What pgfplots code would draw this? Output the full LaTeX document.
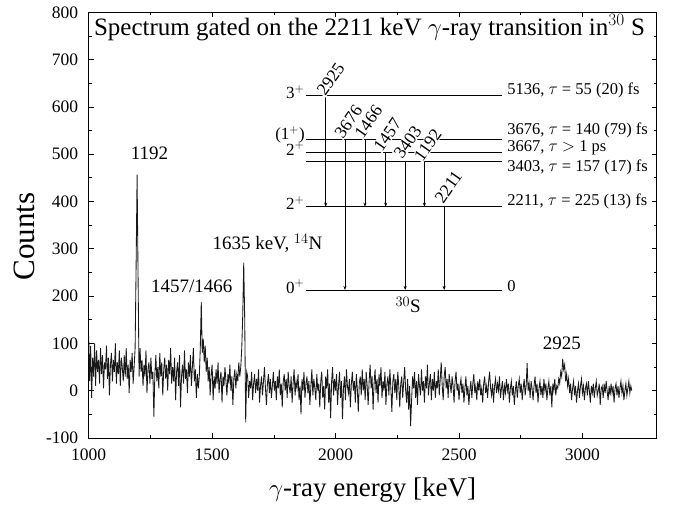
\documentclass[border=0pt]{standalone}
\usepackage{fontspec}
\setmainfont{Liberation Serif}
\usepackage{pgfplots}
\pgfplotsset{compat=1.18}
\usetikzlibrary{arrows.meta}

\begin{document}
\begin{tikzpicture}
\useasboundingbox (-88.7pt,-67pt) rectangle (589.3pt,438pt);
\begin{axis}[
  scale only axis, width=567.8pt, height=425.7pt,
  xmin=1000, xmax=3300, ymin=-100, ymax=800,
  xtick={1000,1500,2000,2500,3000}, minor x tick num=1,
  ytick={-100,0,100,200,300,400,500,600,700,800}, minor y tick num=1,
  tick align=inside, major tick length=5pt, minor tick length=3pt,
  axis line style={line width=0.9pt},
  every tick/.style={line width=0.7pt, black},
  /pgf/number format/assume math mode=true,
  /pgf/number format/1000 sep={},
  tick label style={font=\fontsize{17.5}{20}\selectfont},
  yticklabel style={xshift=-7pt},
  xticklabel style={yshift=-7pt},
  xlabel={$\gamma$-ray energy [keV]},
  ylabel={Counts},
  x label style={font=\fontsize{27}{30}\selectfont, at={(axis description cs:0.5,-0.122)},anchor=center},
  y label style={font=\fontsize{31}{34}\selectfont, at={(axis description cs:-0.114,0.473)},anchor=center},
  clip mode=individual,
]
\addplot[black!90, line width=0.85pt] coordinates {
(1000,115)(1004,20)(1008,95)(1012,-15)(1016,70)(1020,30)(1024,100)(1028,10)(1032,85)(1036,40)(1040,65)(1044,15)(1048,90)(1052,35)(1056,75)(1060,5)
(1064,60)(1068,45)(1072,95)(1076,25)(1080,70)(1084,-10)(1088,55)(1092,80)(1096,20)(1100,65)(1104,40)(1108,100)(1112,15)(1116,60)(1120,35)(1124,85)
(1128,10)(1132,70)(1136,50)(1140,20)(1144,75)(1148,30)(1152,90)(1156,25)(1160,55)(1164,-5)(1168,65)(1172,40)(1176,80)(1180,15)(1184,50)
(1188,90)(1192,260)(1196,457)(1200,240)(1204,30)(1208,90)(1212,40)
(1216,65)(1220,10)(1224,55)(1228,30)(1232,85)(1236,-5)(1240,45)(1244,60)(1248,15)(1252,70)(1256,25)(1260,40)(1264,-55)(1268,35)(1272,75)(1276,20)
(1280,50)(1284,5)(1288,80)(1292,30)(1296,60)(1300,-10)(1304,45)(1308,70)(1312,25)(1316,55)(1320,0)(1324,65)(1328,35)(1332,90)(1336,15)(1340,50)
(1344,20)(1348,70)(1352,-20)(1356,40)(1360,60)(1364,10)(1368,75)(1372,-35)(1376,30)(1380,55)(1384,15)(1388,85)(1392,25)(1396,45)(1400,-5)(1404,60)
(1408,30)(1412,75)(1416,10)(1420,50)(1424,90)(1428,20)(1432,45)(1436,-15)(1440,35)(1444,5)
(1448,30)(1452,90)(1456,188)(1460,80)(1464,110)(1468,60)(1472,95)(1476,40)
(1480,70)(1484,20)(1488,50)(1492,-10)(1496,35)(1500,55)(1504,-20)(1508,30)(1512,5)(1516,45)(1520,15)(1524,60)(1528,-5)(1532,25)(1536,40)(1540,-25)
(1544,30)(1548,10)(1552,50)(1556,20)(1560,-10)(1564,35)(1568,15)(1572,55)(1576,0)(1580,30)(1584,-30)(1588,25)(1592,45)(1596,5)(1600,35)(1604,20)
(1608,60)(1612,30)(1616,50)
(1620,90)(1624,160)(1628,271)(1632,150)(1636,-67)(1640,40)
(1644,30)(1648,-15)(1652,20)(1656,5)(1660,40)(1664,-20)(1668,15)(1672,35)(1676,-5)(1680,25)(1684,0)(1688,45)(1692,-25)(1696,10)(1700,30)(1704,-10)
(1708,20)(1712,50)(1716,5)(1720,-30)(1724,15)(1728,35)(1732,-5)(1736,25)(1740,-15)(1744,10)(1748,40)(1752,0)(1756,20)(1760,-20)(1764,30)(1768,5)
(1772,45)(1776,-10)(1780,15)(1784,-35)(1788,20)(1792,35)(1796,0)(1800,25)(1804,-15)(1808,40)(1812,10)(1816,-5)(1820,30)(1824,-25)(1828,15)(1832,45)
(1836,-10)(1840,20)(1844,5)(1848,35)(1852,-20)(1856,10)(1860,-50)(1864,25)(1868,0)(1872,40)(1876,-15)(1880,15)(1884,30)(1888,-5)(1892,20)(1896,-30)
(1900,10)(1904,45)(1908,-10)(1912,25)(1916,5)(1920,-20)(1924,35)(1928,0)(1932,15)(1936,-35)(1940,20)(1944,40)(1948,-15)(1952,10)(1956,-40)(1960,30)
(1964,5)(1968,45)(1972,-25)(1976,15)(1980,-58)(1984,20)(1988,50)(1992,-10)(1996,25)(2000,0)(2004,35)(2008,-30)(2012,10)(2016,40)(2020,-15)(2024,20)
(2028,-60)(2032,5)(2036,30)(2040,-20)(2044,45)(2048,10)(2052,-5)(2056,25)(2060,-35)(2064,15)(2068,40)(2072,0)(2076,20)(2080,-25)(2084,35)(2088,5)
(2092,-45)(2096,15)(2100,30)(2104,-10)(2108,45)(2112,0)(2116,25)(2120,-20)(2124,40)(2128,10)(2132,-30)(2136,20)(2140,55)(2144,5)(2148,30)(2152,-40)
(2156,15)(2160,45)(2164,-5)(2168,25)(2172,-25)(2176,35)(2180,10)(2184,50)(2188,-15)(2192,20)(2196,0)(2200,40)(2204,-30)(2208,15)(2212,30)(2216,-10)
(2220,45)(2224,5)(2228,-45)(2232,20)(2236,35)(2240,-5)(2244,25)(2248,-20)(2252,40)(2256,10)(2260,-35)(2264,15)(2268,30)(2272,-15)(2276,20)(2280,50)
(2284,0)(2288,-25)(2292,25)(2296,-40)(2300,10)(2304,-75)(2308,-20)(2312,30)(2316,5)(2320,40)(2324,-15)(2328,20)(2332,-30)(2336,35)(2340,10)(2344,-10)
(2348,45)(2352,0)(2356,20)(2360,-25)(2364,30)(2368,5)(2372,55)(2376,-10)(2380,15)(2384,35)(2388,-20)(2392,25)(2396,0)(2400,40)(2404,-15)(2408,20)
(2412,5)(2416,45)(2420,-10)(2424,25)(2428,60)(2432,10)(2436,-20)(2440,30)(2444,50)(2448,5)(2452,25)(2456,-15)(2460,35)(2464,15)(2468,-5)(2472,30)
(2476,10)(2480,-25)(2484,20)(2488,40)(2492,0)(2496,15)
(2500,-20)(2504,10)(2508,25)(2512,-5)(2516,15)(2520,-25)(2524,5)(2528,30)(2532,-10)(2536,10)(2540,-30)(2544,0)(2548,20)(2552,-15)(2556,15)(2560,35)
(2564,-5)(2568,10)(2572,-20)(2576,20)(2580,0)(2584,25)(2588,-10)(2592,5)(2596,-25)(2600,15)(2604,30)(2608,-5)(2612,10)(2616,-15)(2620,20)(2624,40)
(2628,5)(2632,-10)(2636,15)(2640,-25)(2644,10)(2648,25)(2652,-5)(2656,15)(2660,0)(2664,30)(2668,-15)(2672,5)(2676,20)(2680,-20)(2684,10)(2688,-5)
(2692,25)(2696,0)(2700,15)(2704,-25)(2708,5)(2712,20)(2716,-10)(2720,10)(2724,-30)(2728,0)(2732,20)(2736,-15)(2740,10)(2744,25)(2748,-5)(2752,15)
(2756,-20)(2760,5)(2764,25)(2768,-10)(2772,10)(2776,58)(2780,0)(2784,15)(2788,-15)(2792,20)(2796,5)(2800,-20)(2804,10)(2808,30)(2812,-5)(2816,15)
(2820,-25)(2824,5)(2828,20)(2832,-10)(2836,10)(2840,-15)(2844,25)(2848,0)(2852,15)(2856,-20)(2860,5)(2864,20)(2868,-10)(2872,10)(2876,-35)(2880,15)
(2884,0)(2888,25)(2892,-10)(2896,10)
(2900,5)(2904,25)(2908,15)(2912,40)(2916,30)(2920,67)(2924,45)(2928,55)(2932,20)(2936,35)(2940,10)(2944,25)
(2948,-5)(2952,15)(2956,-20)(2960,5)(2964,20)(2968,-10)(2972,10)(2976,-25)(2980,0)(2984,15)(2988,-15)(2992,10)(2996,25)(3000,-5)(3004,10)(3008,-20)
(3012,5)(3016,15)(3020,-10)(3024,20)(3028,0)(3032,-25)(3036,10)(3040,-5)(3044,15)(3048,-15)(3052,5)(3056,20)(3060,-10)(3064,0)(3068,15)(3072,-30)
(3076,5)(3080,10)(3084,-15)(3088,15)(3092,-5)(3096,20)(3100,0)(3104,-20)(3108,10)(3112,-10)(3116,15)(3120,-5)(3124,10)(3128,-25)(3132,5)(3136,15)
(3140,-10)(3144,10)(3148,-15)(3152,5)(3156,20)(3160,-5)(3164,10)(3168,-20)(3172,0)(3176,15)(3180,-10)(3184,5)(3188,20)(3192,-5)(3196,10)(3200,0)
};

% title and peak labels
\node[anchor=base west, inner sep=0pt, font=\fontsize{25}{28}\selectfont] at (axis cs:1021,752)
  {Spectrum gated on the 2211 keV $\gamma$-ray transition in$^{30}$ S};
\begin{scope}[every node/.style={font=\fontsize{19}{22}\selectfont, inner sep=0pt}]
\node at (axis cs:1246,502) {1192};
\node at (axis cs:1417,221) {1457/1466};
\node at (axis cs:1724,312) {1635 keV, $^{14}$N};
\node at (axis cs:2917,101) {2925};
\end{scope}

% level scheme
\begin{scope}[line width=0.6pt]
\draw (axis cs:1880,624) -- (axis cs:2675,624);
\draw (axis cs:1880,532) -- (axis cs:2675,532);
\draw (axis cs:1880,505) -- (axis cs:2675,505);
\draw (axis cs:1880,484) -- (axis cs:2675,484);
\draw (axis cs:1880,389) -- (axis cs:2675,389);
\draw (axis cs:1880,213) -- (axis cs:2675,213);
\end{scope}
\begin{scope}[line width=0.5pt, -{Stealth[length=4pt,width=3pt]}]
\draw (axis cs:1960,624) -- (axis cs:1960,389);
\draw (axis cs:2038,532) -- (axis cs:2038,213);
\draw (axis cs:2119,532) -- (axis cs:2119,389);
\draw (axis cs:2203,505) -- (axis cs:2203,389);
\draw (axis cs:2282,484) -- (axis cs:2282,213);
\draw (axis cs:2360,484) -- (axis cs:2360,389);
\draw (axis cs:2440,389) -- (axis cs:2440,213);
\end{scope}
\begin{scope}[every node/.style={font=\fontsize{17.5}{20}\selectfont, inner sep=0.6pt, rotate=55, fill=white}]
\node at (axis cs:1980,659) {2925};
\node at (axis cs:2052,569) {3676};
\node at (axis cs:2133,569) {1466};
\node at (axis cs:2210,541) {1457};
\node at (axis cs:2292,526) {3403};
\node at (axis cs:2374,520) {1192};
\node at (axis cs:2457,431) {2211};
\end{scope}
\begin{scope}[every node/.style={font=\fontsize{16.5}{19}\selectfont, inner sep=0pt, anchor=west}]
\node at (axis cs:2695,634) {5136, $\tau$ = 55 (20) fs};
\node at (axis cs:2695,551) {3676, $\tau$ = 140 (79) fs};
\node at (axis cs:2695,514) {3667, $\tau$ $>$ 1 ps};
\node at (axis cs:2695,473) {3403, $\tau$ = 157 (17) fs};
\node at (axis cs:2695,400) {2211, $\tau$ = 225 (13) fs};
\node at (axis cs:2695,221) {0};
\end{scope}
\begin{scope}[every node/.style={font=\fontsize{17}{19}\selectfont, inner sep=0pt, anchor=east}]
\node at (axis cs:1874,632) {3$^{+}$};
\node at (axis cs:1876,541) {(1$^{+}$)};
\node at (axis cs:1874,512) {2$^{+}$};
\node at (axis cs:1874,397) {2$^{+}$};
\node at (axis cs:1874,220) {0$^{+}$};
\end{scope}
\node[font=\fontsize{19}{22}\selectfont, inner sep=0pt] at (axis cs:2294,181) {$^{30}$S};
\end{axis}
\end{tikzpicture}
\end{document}
